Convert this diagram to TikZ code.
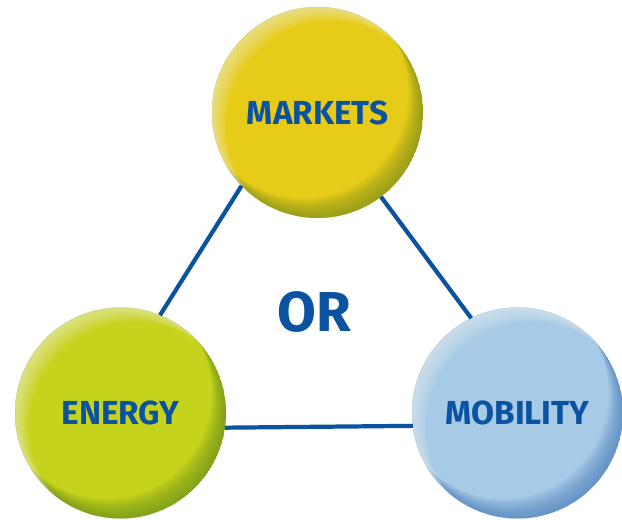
\documentclass[tikz,border=0pt]{standalone}
\usepackage{fontspec}
\setmainfont{Fira Sans}
\usetikzlibrary{backgrounds,calc}

\definecolor{mkbase}{HTML}{E7CB19}
\definecolor{mkdark}{HTML}{7E921C}
\definecolor{enbase}{HTML}{C6D31C}
\definecolor{endark}{HTML}{6A921A}
\definecolor{mbbase}{HTML}{A7CBE7}
\definecolor{mbdark}{HTML}{4E80BE}
\definecolor{orblue}{HTML}{0B52A0}

\tikzset{
  ball/.style={circle,minimum size=6.33cm,inner sep=0pt,outer sep=0pt,
    text=orblue,font=\fontsize{28.4}{30}\selectfont\bfseries},
  link/.style={draw=orblue,line width=3.6pt},
}

\begin{document}
\begin{tikzpicture}[x=0.03cm,y=0.03cm]
\useasboundingbox (0,0) rectangle (622,519);

\node[ball] (markets) at (317.5,406.5) {MARKETS};
\node[ball] (energy) at (120.5,106) {ENERGY};
\node[ball] (mobility) at (517.5,106) {MOBILITY};
\node[text=orblue,font=\fontsize{48}{50}\selectfont\bfseries] (or) at (314.5,206.5) {OR};

% shaded spheres behind the labels
\begin{scope}[on background layer]
\foreach \n/\base/\dark in {markets/mkbase/mkdark,energy/enbase/endark,mobility/mbbase/mbdark} {
  \fill[\base] (\n.center) circle (105.5);
  \begin{scope}
    \clip (\n.center) circle (105.5);
    % darker rim, lower right
    \foreach \k in {1,...,18}
      \fill[\dark,opacity=.06,even odd rule] (\n.center) circle (105.5)
        ($(\n.center)+(-.8*\k,1.1*\k)$) circle (105.5);
    % light rim, upper left
    \foreach \k in {1,...,14}
      \fill[white,opacity=.045,even odd rule] (\n.center) circle (105.5)
        ($(\n.center)+(\k,-\k)$) circle (105.5);
  \end{scope}
}
\end{scope}

\draw[link] (markets.224.6) -- (energy.68);
\draw[link] (markets.307.4) -- (mobility.116.6);
\draw[link] (energy.352.4) -- (mobility.187.6);
\end{tikzpicture}
\end{document}
